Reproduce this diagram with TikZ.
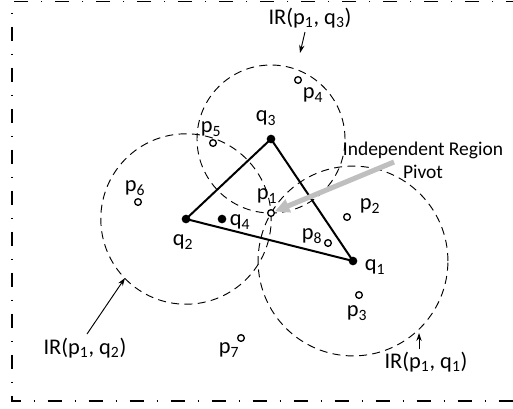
\documentclass[tikz,border=0pt]{standalone}
\usepackage{fontspec}
\setmainfont{Carlito}
\usepackage{tikz}
\usetikzlibrary{arrows.meta, positioning, calc}

\tikzset{
  dot/.style={circle, fill=black, inner sep=0pt, minimum size=6.5pt},
  opendot/.style={circle, draw=black, line width=1pt, fill=white, inner sep=0pt, minimum size=5pt},
  irc/.style={dash pattern=on 6pt off 4pt, line width=0.7pt},
  lbl/.style={font=\fontsize{16.8}{19}\selectfont, inner sep=0pt},
  note/.style={->, >={Stealth[length=6pt,width=4pt]}, line width=0.7pt},
}

\begin{document}
\begin{tikzpicture}[x=0.75pt, y=-0.75pt]
  \useasboundingbox (0,0) rectangle (513,408);

  % Frame
  \draw[line width=1.1pt, dash pattern=on 10.5pt off 9.75pt on 0.75pt off 9.75pt]
    (520,1.5) -- (12,1.5) -- (12,401) -- (520,401);

  % Pivot position
  \coordinate (pv) at (271,213);

  % Independent regions
  \foreach \q/\c in {q1/{353,261}, q2/{186,219}, q3/{271,139}}
    \draw[irc] let \p1 = ($(pv)-(\c)$), \n1 = {veclen(\x1,\y1)} in (\c) circle (\n1);

  % Query points
  \node[dot] (q1) at (353,261) {};
  \node[dot] (q2) at (186,219) {};
  \node[dot] (q3) at (271,139) {};
  \node[dot] (q4) at (222,219) {};

  % Triangle
  \draw[line width=1.5pt] (q1.center) -- (q2.center) -- (q3.center) -- cycle;

  % Data points
  \node[opendot] (p1) at (pv) {};
  \node[opendot] (p2) at (347,217) {};
  \node[opendot] (p3) at (359,295) {};
  \node[opendot] (p4) at (298,80) {};
  \node[opendot] (p5) at (213,143) {};
  \node[opendot] (p6) at (138,202) {};
  \node[opendot] (p7) at (241,338) {};
  \node[opendot] (p8) at (328,243) {};

  % Labels
  \node[lbl] (lq1) at (375,267) {q\textsubscript{1}};
  \node[lbl] (lq2) at (183,242) {q\textsubscript{2}};
  \node[lbl] (lq3) at (266,118) {q\textsubscript{3}};
  \node[lbl] (lq4) at (240,222) {q\textsubscript{4}};
  \node[lbl] (lp1) at (267,196) {p\textsubscript{1}};
  \node[lbl] (lp2) at (370,206) {p\textsubscript{2}};
  \node[lbl] (lp3) at (357,313) {p\textsubscript{3}};
  \node[lbl] (lp4) at (313,95) {p\textsubscript{4}};
  \node[lbl] (lp5) at (211,129) {p\textsubscript{5}};
  \node[lbl] (lp6) at (135,188) {p\textsubscript{6}};
  \node[lbl] (lp7) at (229,350) {p\textsubscript{7}};
  \node[lbl] (lp8) at (312,236) {p\textsubscript{8}};

  % Region names
  \node[lbl] (ir3) at (310,18) {IR(p\textsubscript{1}, q\textsubscript{3})};
  \node[lbl] (ir2) at (85,348) {IR(p\textsubscript{1}, q\textsubscript{2})};
  \node[lbl] (ir1) at (426,362) {IR(p\textsubscript{1}, q\textsubscript{1})};
  \coordinate (e3) at (300,53);
  \coordinate (e2) at (125,278);
  \coordinate (e1) at (419,333);
  \draw[note] (305,32) -- (e3);
  \draw[note] (87,334) -- (e2);
  \draw[note] (419,349) -- (e1);

  % Pivot
  \node[font=\fontsize{14.6}{17}\selectfont, align=center, inner sep=0pt] (piv) at (423,160)
    {Independent Region\\Pivot};
  \coordinate (g0) at (394,162);
  \draw[gray!50, line width=3.8pt, -{Triangle[length=11pt,width=10pt]}] (g0) -- (p1);
\end{tikzpicture}
\end{document}
